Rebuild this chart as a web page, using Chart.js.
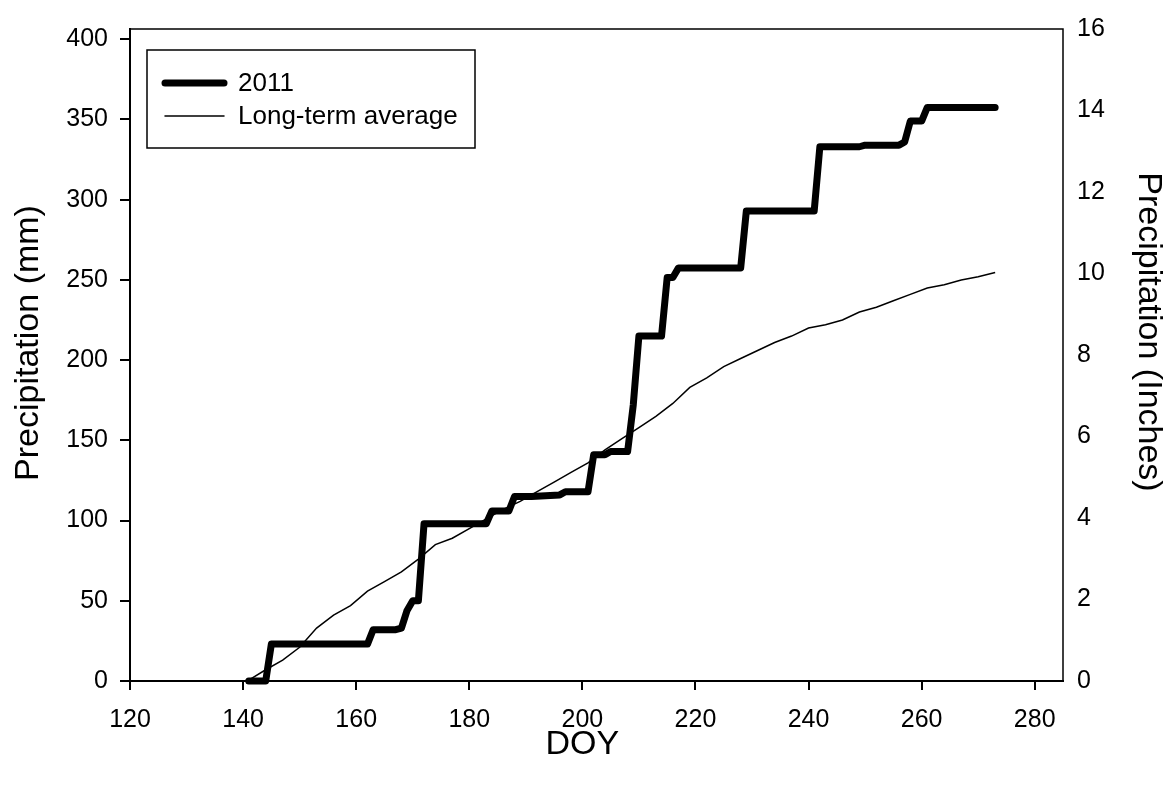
<!DOCTYPE html>
<html>
<head>
<meta charset="utf-8">
<title>Cumulative precipitation</title>
<script src="https://cdn.jsdelivr.net/npm/chart.js@4.4.1/dist/chart.umd.min.js"></script>
<style>
  html, body { margin: 0; padding: 0; background: #ffffff; }
  #wrap { width: 1165px; height: 786px; }
</style>
</head>
<body>
<div id="wrap"><canvas id="chart" width="1165" height="786"></canvas></div>
<script>
// Cumulative precipitation, 2011 season (mm), vertices of the step curve
const doy2011 = [141, 144, 145, 162, 163, 167, 168, 169, 170, 171, 172, 183, 184, 187, 188, 191, 196, 197, 201, 202, 204, 205, 208, 209, 210, 214, 215, 216, 217, 228, 229, 241, 242, 249, 250, 256, 257, 258, 260, 261, 273];
const precip2011 = [0, 0, 23, 23, 32, 32, 33, 44, 50, 50, 98, 98, 106, 106, 115, 115, 116, 118, 118, 141, 141, 143, 143, 172, 215, 215, 251.5, 251.5, 257.5, 257.5, 293, 293, 333, 333, 334, 334, 336, 349, 349, 357.5, 357.5];

// Long-term average cumulative precipitation (mm)
const doyAvg = [141, 144, 147, 150, 153, 156, 159, 162, 165, 168, 171, 174, 177, 180, 183, 186, 189, 192, 195, 198, 201, 204, 207, 210, 213, 216, 219, 222, 225, 228, 231, 234, 237, 240, 243, 246, 249, 252, 255, 258, 261, 264, 267, 270, 273];
const precipAvg = [0.6, 7, 13, 21, 33, 41, 47, 56, 62, 68, 76, 85, 89, 95, 101, 107, 112, 118, 124, 130, 136, 144, 151, 158, 165, 173, 183, 189, 196, 201, 206, 211, 215, 220, 222, 225, 230, 233, 237, 241, 245, 247, 250, 252, 254.6];

// Axis ticks
const doyTicks = [120, 140, 160, 180, 200, 220, 240, 260, 280];
const mmTicks = [0, 50, 100, 150, 200, 250, 300, 350, 400];
const inchTicks = [0, 2, 4, 6, 8, 10, 12, 14, 16];

const seriesNames = ['2011', 'Long-term average'];
const axisTitles = { x: 'DOY', y: 'Precipitation (mm)', y2: 'Precipitation (Inches)' };
const MM_PER_INCH = 25.4;

const FONT = '"Liberation Sans", Arial, Helvetica, sans-serif';
const TICK_SIZE = 25;
const TITLE_SIZE = 34;

const toPoints = (xs, ys) => xs.map((x, i) => ({ x: x, y: ys[i] }));
const mid = (arr) => (arr[0] + arr[arr.length - 1]) / 2;

// Frame on the top and right edges of the plot area
const frame = {
  id: 'frame',
  afterDraw(chart) {
    const { ctx, chartArea: a } = chart;
    ctx.save();
    ctx.strokeStyle = '#000';
    ctx.lineWidth = 1.5;
    ctx.beginPath();
    ctx.moveTo(a.left, a.top);
    ctx.lineTo(a.right, a.top);
    ctx.lineTo(a.right, a.bottom);
    ctx.stroke();
    ctx.restore();
  }
};

// Axis titles
const axisTitlePlugin = {
  id: 'axisTitles',
  afterDraw(chart) {
    const { ctx } = chart;
    const sx = chart.scales.x;
    const put = (text, x, y, angle) => {
      ctx.save();
      ctx.translate(x, y);
      ctx.rotate(angle);
      ctx.fillText(text, 0, 0);
      ctx.restore();
    };
    ctx.save();
    ctx.fillStyle = '#000';
    ctx.font = TITLE_SIZE + 'px ' + FONT;
    ctx.textAlign = 'center';
    ctx.textBaseline = 'middle';
    put(axisTitles.x, sx.getPixelForValue(mid(doyTicks)), 745, 0);
    put(axisTitles.y, 29, 343, -Math.PI / 2);
    put(axisTitles.y2, 1148, 332, Math.PI / 2);
    ctx.restore();
  }
};

// Boxed legend in the upper-left corner of the plot
const boxLegend = {
  id: 'boxLegend',
  afterDraw(chart) {
    const { ctx, chartArea: a } = chart;
    const ds = chart.data.datasets;
    const x0 = a.left + 17, y0 = a.top + 21, w = 328, h = 98;
    ctx.save();
    ctx.strokeStyle = '#000';
    ctx.lineWidth = 1.5;
    ctx.strokeRect(x0, y0, w, h);
    const rows = [y0 + 33, y0 + 66];
    ds.forEach((d, i) => {
      const y = rows[i];
      ctx.beginPath();
      ctx.lineCap = 'round';
      ctx.lineWidth = d.borderWidth;
      ctx.strokeStyle = d.borderColor;
      ctx.moveTo(x0 + 18, y);
      ctx.lineTo(x0 + 77, y);
      ctx.stroke();
      ctx.fillStyle = '#000';
      ctx.font = '26px ' + FONT;
      ctx.textBaseline = 'middle';
      ctx.textAlign = 'left';
      ctx.fillText(d.label, x0 + 91, y + 1);
    });
    ctx.restore();
  }
};

new Chart(document.getElementById('chart'), {
  type: 'line',
  data: {
    datasets: [
      {
        label: seriesNames[0],
        data: toPoints(doy2011, precip2011),
        borderColor: '#000',
        borderWidth: 7,
        borderCapStyle: 'round',
        borderJoinStyle: 'round',
        pointRadius: 0,
        tension: 0,
        clip: false,
        order: 2,
        yAxisID: 'y'
      },
      {
        label: seriesNames[1],
        data: toPoints(doyAvg, precipAvg),
        borderColor: '#000',
        borderWidth: 1.5,
        pointRadius: 0,
        tension: 0,
        clip: false,
        order: 1,
        yAxisID: 'y'
      }
    ]
  },
  options: {
    responsive: false,
    animation: false,
    devicePixelRatio: 1,
    layout: { padding: { top: 28, left: 0, right: 0, bottom: 0 } },
    plugins: {
      legend: { display: false },
      tooltip: { enabled: false }
    },
    scales: {
      x: {
        type: 'linear',
        min: 120,
        max: 285,
        afterBuildTicks: s => { s.ticks = doyTicks.map(v => ({ value: v })); },
        afterFit: s => { s.height = 105; },
        border: { display: true, color: '#000', width: 2 },
        grid: { drawOnChartArea: false, drawTicks: true, tickLength: 9, color: '#000', lineWidth: 2 },
        ticks: { color: '#000', font: { family: FONT, size: TICK_SIZE }, padding: 15, maxRotation: 0, autoSkip: false },
        title: { display: false }
      },
      y: {
        type: 'linear',
        position: 'left',
        min: 0,
        max: 16 * MM_PER_INCH,
        afterBuildTicks: s => { s.ticks = mmTicks.map(v => ({ value: v })); },
        afterFit: s => { s.width = 130; },
        border: { display: true, color: '#000', width: 2 },
        grid: { drawOnChartArea: false, drawTicks: true, tickLength: 10, color: '#000', lineWidth: 2 },
        ticks: { color: '#000', font: { family: FONT, size: TICK_SIZE }, padding: 12, autoSkip: false },
        title: { display: false }
      },
      y2: {
        type: 'linear',
        position: 'right',
        min: 0,
        max: 16,
        afterBuildTicks: s => { s.ticks = inchTicks.map(v => ({ value: v })); },
        afterFit: s => { s.width = 102; },
        border: { display: false },
        grid: { drawOnChartArea: false, drawTicks: false },
        ticks: { color: '#000', font: { family: FONT, size: TICK_SIZE }, padding: 14, autoSkip: false },
        title: { display: false }
      }
    }
  },
  plugins: [frame, axisTitlePlugin, boxLegend]
});
</script>
</body>
</html>
